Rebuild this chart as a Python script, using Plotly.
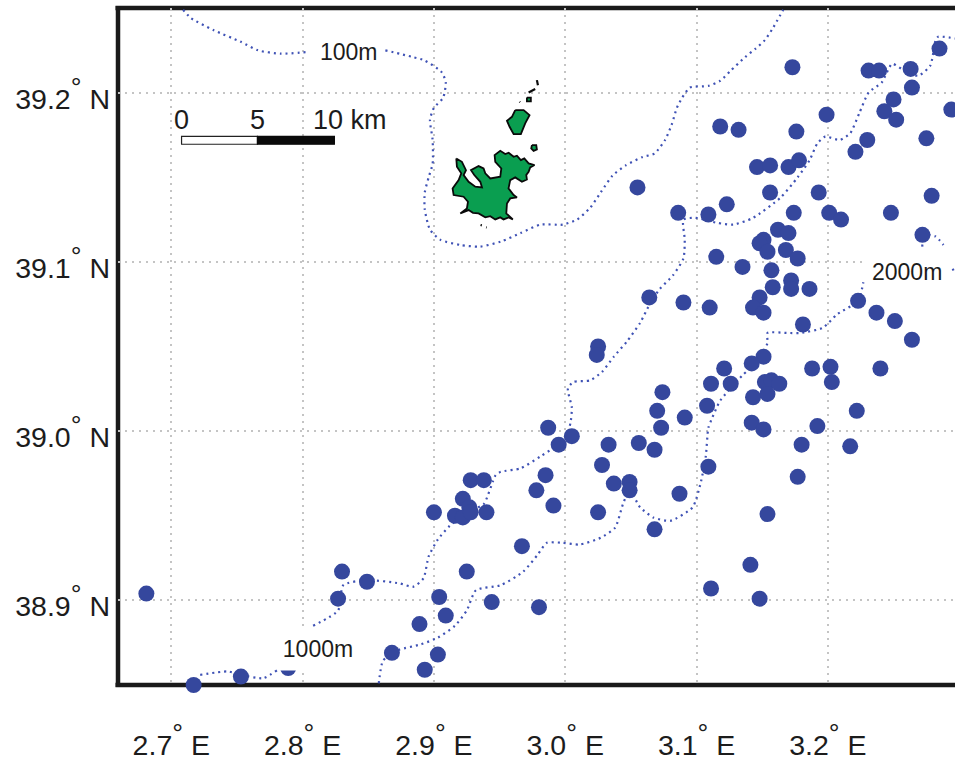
import plotly.graph_objects as go

# Sampling stations
station_lon = [3.173,3.118,3.132,3.176,3.199,3.231,3.239,3.263,3.285,3.264,3.250,3.243,3.252,3.294,3.230,3.221,3.275,
3.146,3.156,3.170,3.178,3.156,3.193,3.279,3.123,3.086,3.055,3.109,3.174,3.201,3.210,3.248,3.272,3.162,3.170,3.151,3.148,
3.154,3.168,3.177,3.115,3.135,3.157,3.172,3.158,3.172,3.186,3.148,3.143,3.151,3.090,3.110,3.064,3.223,3.237,3.251,3.264,
3.181,3.151,3.142,3.121,3.111,3.126,3.152,3.157,3.163,3.154,3.143,3.188,3.202,3.203,3.240,3.074,3.070,3.108,3.091,3.222,
3.142,3.151,3.192,3.180,3.217,3.177,3.154,3.141,3.111,3.148,3.109,3.073,3.056,3.068,3.033,3.028,2.987,3.005,2.995,3.037,
3.049,3.049,2.985,2.978,2.991,3.025,3.087,3.068,2.967,2.928,2.938,2.922,2.927,2.900,2.940,2.916,2.922,2.928,2.925,2.904,
2.909,2.889,2.944,2.980,2.903,2.893,2.868,2.830,2.849,2.827,2.681,2.717,2.753,2.789,3.025,3.024]
station_lat = [39.215,39.180,39.178,39.177,39.187,39.213,39.213,39.214,39.226,39.203,39.196,39.189,39.184,39.190,39.172,39.165,39.173,
39.156,39.157,39.156,39.160,39.141,39.141,39.139,39.134,39.129,39.144,39.128,39.129,39.129,39.125,39.129,39.116,39.119,39.117,39.113,39.111,
39.106,39.107,39.102,39.103,39.097,39.095,39.089,39.085,39.084,39.084,39.079,39.073,39.070,39.076,39.073,39.079,39.077,39.070,39.065,39.054,
39.063,39.044,39.040,39.037,39.028,39.028,39.029,39.030,39.028,39.022,39.020,39.037,39.038,39.029,39.037,39.023,39.012,39.015,39.008,39.012,
39.005,39.001,39.003,38.992,38.991,38.973,38.951,38.921,38.907,38.901,38.979,39.002,38.993,38.989,38.992,38.980,39.002,38.997,38.992,38.969,
38.970,38.965,38.974,38.965,38.956,38.952,38.963,38.942,38.932,38.971,38.971,38.960,38.955,38.952,38.952,38.950,38.949,38.952,38.917,38.902,
38.891,38.886,38.899,38.896,38.868,38.859,38.869,38.917,38.911,38.901,38.904,38.850,38.855,38.860,39.050,39.045]

# Depth contours
c100_lon = [2.709,2.715,2.732,2.753,2.766,2.783,2.804,None,2.863,2.884,2.893,2.906,2.909,2.907,2.900,2.897,2.899,2.899,2.896,2.893,2.893,2.897,2.905,
2.920,2.935,2.951,2.966,2.981,2.998,3.009,3.019,3.027,3.036,3.046,3.059,3.068,3.076,3.081,3.085,3.089,3.095,3.109,3.118,3.126,3.137,3.145,3.152,3.158,3.166]
c100_lat = [39.249,39.244,39.237,39.230,39.225,39.223,39.224,None,39.225,39.221,39.219,39.212,39.206,39.197,39.191,39.184,39.172,39.158,39.150,39.141,39.131,39.119,39.113,
39.110,39.109,39.112,39.117,39.122,39.122,39.125,39.132,39.141,39.151,39.157,39.162,39.164,39.172,39.181,39.191,39.197,39.203,39.204,39.207,39.213,39.221,39.226,39.231,39.238,39.249]

c1000_lon = [2.722,2.743,2.753,2.770,2.781,None,2.808,2.827,2.831,2.849,2.874,2.884,2.892,2.896,2.903,2.912,2.928,2.938,2.947,2.951,2.966,2.981,2.991,3.000,3.004,3.005,3.002,3.006,3.019,
3.028,3.037,3.047,3.057,3.065,3.072,3.082,3.090,3.091,3.090,3.099,3.116,3.128,3.143,3.164,3.177,3.186,3.192,3.198,3.209,3.217,3.224,3.231,3.241,3.249,3.260,3.269,3.278,3.282,3.284,3.297]
c1000_lat = [38.856,38.858,38.856,38.854,38.859,None,38.885,38.894,38.909,38.912,38.910,38.908,38.913,38.926,38.936,38.944,38.953,38.957,38.974,38.976,38.978,38.985,38.990,38.995,39.005,39.014,39.025,39.029,39.030,
39.035,39.044,39.053,39.064,39.076,39.084,39.092,39.102,39.113,39.125,39.126,39.123,39.122,39.126,39.138,39.150,39.160,39.170,39.174,39.172,39.176,39.188,39.200,39.206,39.217,39.212,39.210,39.216,39.231,39.233,39.232]

c2000_lon = [2.858,2.861,2.868,2.874,2.890,2.903,2.916,2.925,2.932,2.951,2.968,2.979,2.986,2.998,3.011,3.027,3.038,3.044,3.049,3.057,3.067,3.080,3.097,3.103,3.107,3.109,3.112,3.118,3.135,3.146,
3.154,3.154,3.169,3.179,3.196,3.207,3.223,3.227,None,3.272,3.272,3.282,3.288,None,3.295,3.297]
c2000_lat = [38.851,38.864,38.869,38.871,38.874,38.878,38.885,38.894,38.906,38.909,38.917,38.927,38.934,38.934,38.933,38.937,38.943,38.957,38.965,38.955,38.949,38.947,38.955,38.969,38.985,39.002,39.008,39.018,39.033,39.041,
39.052,39.058,39.058,39.058,39.061,39.069,39.077,39.088,None,39.109,39.116,39.115,39.110,None,39.096,39.093]

# Island outlines
island_lon = [2.9170,2.9213,2.9244,2.9226,2.9264,2.9315,2.9366,2.9353,2.9307,2.9282,2.9340,2.9378,2.9391,2.9429,2.9505,2.9513,2.9467,2.9462,2.9505,2.9543,2.9569,2.9607,2.9632,2.9662,2.9688,2.9721,2.9766,2.9733,2.9721,2.9703,2.9708,2.9670,2.9619,2.9581,2.9568,2.9607,2.9632,2.9581,2.9556,2.9551,2.9601,2.9569,2.9530,2.9505,2.9467,2.9429,2.9391,2.9340,2.9297,2.9264,2.9201,2.9251,2.9259,2.9226,2.9150,2.9142,2.9188,2.9208,2.9175,2.9170,None,
2.9619,2.9683,2.9728,2.9695,2.9662,2.9607,2.9576,2.9556,2.9594,2.9619,None,
2.9746,2.9779,2.9784,2.9759,2.9741,2.9746,None,
2.9708,2.9738,2.9738,2.9708,2.9708]
island_lat = [39.1611,39.1591,39.1542,39.1513,39.1473,39.1444,39.1440,39.1473,39.1513,39.1542,39.1566,39.1552,39.1523,39.1493,39.1503,39.1552,39.1591,39.1631,39.1656,39.1637,39.1645,39.1621,39.1627,39.1601,39.1611,39.1582,39.1572,39.1558,39.1532,39.1513,39.1487,39.1473,39.1499,39.1483,39.1434,39.1395,39.1381,39.1375,39.1345,39.1286,39.1251,39.1263,39.1251,39.1263,39.1251,39.1270,39.1263,39.1286,39.1290,39.1306,39.1286,39.1316,39.1355,39.1385,39.1395,39.1434,39.1483,39.1523,39.1562,39.1611,None,
39.1897,39.1897,39.1867,39.1818,39.1755,39.1755,39.1798,39.1834,39.1857,39.1897,None,
39.1690,39.1690,39.1664,39.1656,39.1670,39.1690,None,
39.1971,39.1971,39.1948,39.1948,39.1971]
islet_lon = [2.9721,2.9771,None,2.9784,2.9792,None,2.9652,2.9656,None,2.9355,2.9365,None,2.9397,2.9402]
islet_lat = [39.2001,39.2021,None,39.2074,39.2044,None,39.1946,39.1943,None,39.1218,39.1216,None,39.1204,39.1203]

# Axis ticks
DEG = "<sup><span style='font-size:27px'>°</span></sup>"
lon_ticks = [2.7,2.8,2.9,3.0,3.1,3.2]
lat_ticks = [38.9,39.0,39.1,39.2]
lon_labels = [f"{v}{DEG} E" for v in ["2.7","2.8","2.9","3.0","3.1","3.2"]]
lat_labels = [f"{v}{DEG} N" for v in ["38.9","39.0","39.1","39.2"]]

FONT = "Liberation Sans"
BLUE = "#35479d"
INK = "#1c1c1c"
FRAME = "#1a1a1a"

fig = go.Figure()
fig.add_trace(go.Scatter(x=island_lon, y=island_lat, mode="lines", fill="toself", fillcolor="#0a9e50",
                         line=dict(color="#0a0a0a", width=1.8), hoverinfo="skip"))
fig.add_trace(go.Scatter(x=islet_lon, y=islet_lat, mode="lines", line=dict(color="#0a0a0a", width=2.2), hoverinfo="skip"))
for lon, lat in [(c100_lon, c100_lat), (c1000_lon, c1000_lat), (c2000_lon, c2000_lat)]:
    fig.add_trace(go.Scatter(x=lon, y=lat, mode="lines", line=dict(color="#3f52b5", width=2.2, dash="2px,4px", shape="spline", smoothing=0.6),
                             connectgaps=False, hoverinfo="skip"))
fig.add_trace(go.Scatter(x=station_lon, y=station_lat, mode="markers", cliponaxis=False,
                         marker=dict(size=16, color=BLUE, line=dict(width=0))))

frame_line = dict(color=FRAME, width=4.5)
shapes = [
    dict(type="rect", xref="x", yref="y", x0=3.229, x1=3.297, y0=39.080, y1=39.107, layer="between",
         fillcolor="white", line=dict(width=0)),
    dict(type="line", xref="paper", yref="paper", x0=-0.003, x1=1, y0=0, y1=0, layer="between", line=frame_line),
    dict(type="line", xref="paper", yref="paper", x0=-0.003, x1=1, y0=1, y1=1, layer="between", line=frame_line),
    dict(type="line", xref="paper", yref="paper", x0=0, x1=0, y0=-0.003, y1=1.003, layer="between", line=frame_line),
    dict(type="rect", xref="x", yref="y", x0=2.7078, x1=2.7656, y0=39.1695, y1=39.1742,
         fillcolor="white", line=dict(color="#222222", width=1.2)),
    dict(type="rect", xref="x", yref="y", x0=2.7656, x1=2.8242, y0=39.1695, y1=39.1742,
         fillcolor="#0a0a0a", line=dict(color="#0a0a0a", width=1.2)),
]
def note(x, y, text, size, **kw):
    return dict(x=x, y=y, xref="x", yref="y", text=text, showarrow=False,
                font=dict(family=FONT, size=size, color=INK), **kw)
annotations = [
    note(2.835, 39.224, "100m", 23, bgcolor="white"),
    note(2.812, 38.871, "1000m", 23, bgcolor="white", width=76, height=40),
    note(3.260, 39.094, "2000m", 23),
    note(2.7078, 39.184, "0", 27),
    note(2.7656, 39.184, "5", 27),
    note(2.836, 39.184, "10 km", 27),
]
fig.update_layout(
    width=955, height=766, autosize=False, showlegend=False,
    paper_bgcolor="white", plot_bgcolor="white",
    margin=dict(l=117.5, r=0, t=8, b=81, pad=0),
    shapes=shapes, annotations=annotations,
    font=dict(family=FONT, size=28.5, color=INK),
    xaxis=dict(range=[2.6594, 3.2968], tickmode="array", tickvals=lon_ticks, ticktext=lon_labels,
               showgrid=True, gridcolor="#c4c4c4", griddash="2px,5px", gridwidth=1.6,
               showline=False, ticks="", zeroline=False,
               layer="below traces", ticklabelstandoff=40, tickangle=0),
    yaxis=dict(range=[38.85, 39.25], tickmode="array", tickvals=lat_ticks, ticktext=lat_labels,
               showgrid=True, gridcolor="#c4c4c4", griddash="2px,5px", gridwidth=1.6,
               showline=False, ticks="", zeroline=False,
               layer="below traces", ticklabelstandoff=7, ticklabelshift=6),
)
fig.write_html("out.html", config={"displayModeBar": False},
               post_script="document.body.style.margin='0';document.documentElement.style.overflow='hidden';")
